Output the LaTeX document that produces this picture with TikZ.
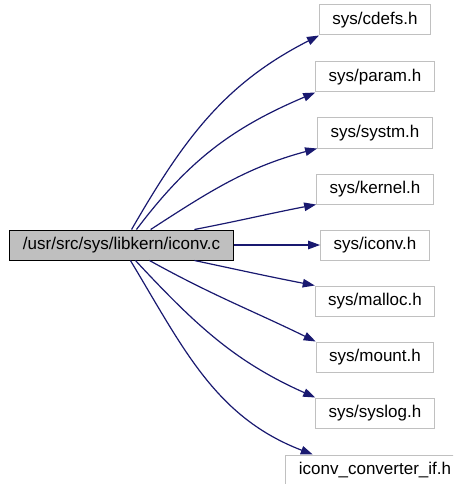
\documentclass[tikz,border=0pt]{standalone}
\usepackage{fontspec}
\setmainfont{Liberation Sans}
\usetikzlibrary{arrows.meta}

\definecolor{edgeblue}{HTML}{191970}
\definecolor{boxgray}{HTML}{BFBFBF}
\definecolor{framegray}{HTML}{C0C0C0}

\begin{document}
\begin{tikzpicture}[x=1pt, y=1pt, >={Triangle[length=12pt,width=8.5pt]},
    file/.style={draw=framegray, line width=1pt, minimum height=30pt, inner xsep=13pt,
        font=\fontsize{17}{20}\selectfont},
    mainfile/.style={file, draw=black, fill=boxgray},
    dep/.style={->, draw=edgeblue, line width=1.2pt}]
    % Frame of the picture (the last box is cut by it)
    \useasboundingbox (0,0) rectangle (453,-484);
    \clip (0,0) rectangle (453,-484);

    % The source file on the left
    \node[mainfile] (iconvc) at (121.5,-245) {/usr/src/sys/libkern/iconv.c};

    % Included headers, one column on the right
    \node[file] (cdefs)  at (375,-20)  {sys/cdefs.h};
    \node[file] (param)  at (375,-77)  {sys/param.h};
    \node[file] (systm)  at (375,-133) {sys/systm.h};
    \node[file] (kernel) at (375,-189) {sys/kernel.h};
    \node[file] (iconvh) at (375,-245) {sys/iconv.h};
    \node[file] (malloc) at (375,-301) {sys/malloc.h};
    \node[file] (mount)  at (375,-357) {sys/mount.h};
    \node[file] (syslog) at (375,-413) {sys/syslog.h};
    \node[file] (convif) at (375,-470) {iconv\_converter\_if.h};

    % Include edges (upper half)
    \draw[dep] (iconvc.57.7) to[out=60,in=207] (cdefs.south west);
    \draw[dep] (iconvc.46)   to[out=53,in=203] (param.south west);
    \draw[dep] (iconvc.28.6) to[out=33,in=195] (systm.south west);
    \draw[dep] (iconvc.12.4) to[out=11,in=191] (kernel.south west);

    % Straight one
    \draw[dep] (iconvc.east) -- (iconvh.west);

    % Include edges (lower half)
    \draw[dep] (iconvc.-12.7) to[out=-12,in=169] (malloc.north west);
    \draw[dep] (iconvc.-29.5) to[out=-29,in=154] (mount.north west);
    \draw[dep] (iconvc.-48)   to[out=-47,in=156] (syslog.north west);
    \draw[dep] (iconvc.-60.5) to[out=-59,in=159] (convif.166.4);
\end{tikzpicture}
\end{document}
